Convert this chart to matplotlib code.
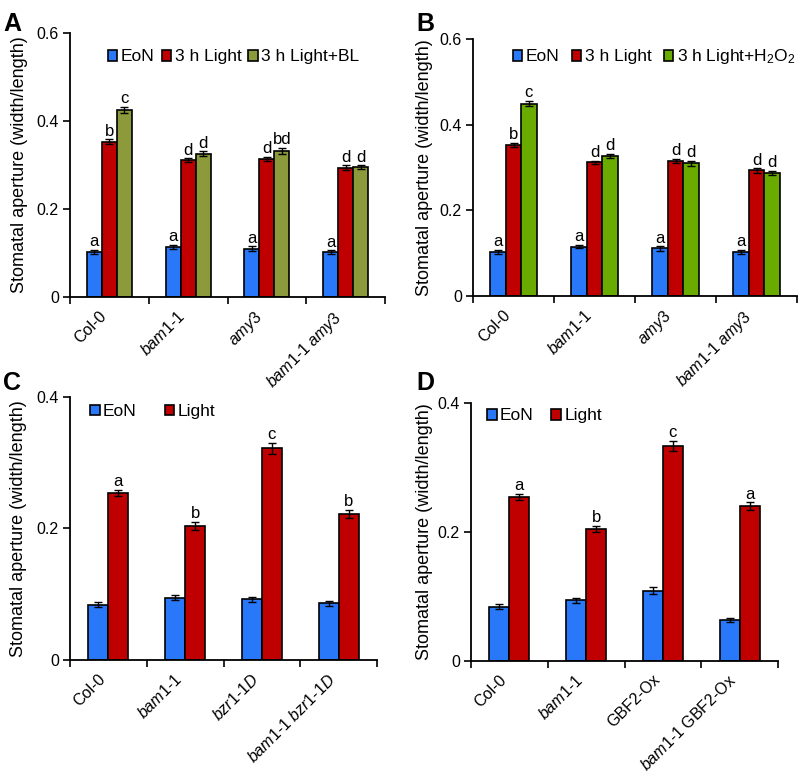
import numpy as np
import matplotlib
matplotlib.use("Agg")
import matplotlib.pyplot as plt

plt.rcParams['font.family'] = ['Liberation Sans', 'DejaVu Sans']
plt.rcParams['mathtext.fontset'] = 'custom'
plt.rcParams['mathtext.rm'] = 'Liberation Sans'
plt.rcParams['mathtext.it'] = 'Liberation Sans:italic'
plt.rcParams['mathtext.default'] = 'regular'

# ---- data ----
labels_ab = ["Col-0", r"$\mathit{bam1}$-$\mathit{1}$", r"$\mathit{amy3}$",
             r"$\mathit{bam1}$-$\mathit{1\ amy3}$"]
labels_c = ["Col-0", r"$\mathit{bam1}$-$\mathit{1}$", r"$\mathit{bzr1}$-$\mathit{1D}$",
            r"$\mathit{bam1}$-$\mathit{1\ bzr1}$-$\mathit{1D}$"]
labels_d = ["Col-0", r"$\mathit{bam1}$-$\mathit{1}$", "GBF2-Ox",
            r"$\mathit{bam1}$-$\mathit{1}$ GBF2-Ox"]

a_eon = [0.102, 0.114, 0.110, 0.102]
a_light = [0.353, 0.311, 0.314, 0.294]
a_bl = [0.425, 0.326, 0.332, 0.295]
a_eon_err = [0.005, 0.004, 0.005, 0.004]
a_light_err = [0.005, 0.004, 0.004, 0.005]
a_bl_err = [0.007, 0.005, 0.006, 0.004]
a_letters = [["a", "a", "a", "a"], ["b", "d", "d", "d"], ["c", "d", "bd", "d"]]

b_eon = [0.103, 0.115, 0.111, 0.103]
b_light = [0.353, 0.312, 0.315, 0.293]
b_h2o2 = [0.449, 0.327, 0.310, 0.287]
b_eon_err = [0.005, 0.004, 0.005, 0.004]
b_light_err = [0.005, 0.004, 0.005, 0.005]
b_h2o2_err = [0.006, 0.005, 0.006, 0.005]
b_letters = [["a", "a", "a", "a"], ["b", "d", "d", "d"], ["c", "d", "d", "d"]]

c_eon = [0.084, 0.095, 0.092, 0.086]
c_light = [0.254, 0.204, 0.322, 0.222]
c_eon_err = [0.004, 0.004, 0.004, 0.004]
c_light_err = [0.005, 0.006, 0.008, 0.006]
c_letters = [["", "", "", ""], ["a", "b", "c", "b"]]

d_eon = [0.084, 0.094, 0.109, 0.063]
d_light = [0.254, 0.205, 0.333, 0.240]
d_eon_err = [0.004, 0.004, 0.005, 0.003]
d_light_err = [0.005, 0.005, 0.008, 0.006]
d_letters = [["", "", "", ""], ["a", "b", "c", "a"]]

BLUE = "#2a78fa"
RED = "#c00000"
OLIVE = "#8c9a3c"
GREEN = "#6aab00"


def panel(ax, labels, series, errs, names, colors, letters, width, ymax, yticks,
          leg_xy, colspace, ylab_x):
    x = np.arange(len(labels))
    n = len(series)
    for i, (vals, err, name, col) in enumerate(zip(series, errs, names, colors)):
        pos = x + (i - (n - 1) / 2) * width
        ax.bar(pos, vals, width, color=col, edgecolor="black", linewidth=1.2, label=name,
               yerr=err, error_kw=dict(ecolor="black", elinewidth=1.0, capsize=3.2, capthick=1.0))
        for p, v, e, t in zip(pos, vals, err, letters[i]):
            ax.text(p, v + e + ymax * 0.003, t, ha="center", va="bottom", fontsize=12)
    ax.set_xlim(-0.5, len(labels) - 0.5)
    ax.set_ylim(0, ymax)
    ax.set_yticks(yticks)
    ax.set_yticklabels(["0" if t == 0 else "%.1f" % t for t in yticks], fontsize=11.5)
    ax.set_xticks(np.arange(len(labels) + 1) - 0.5)
    ax.set_xticklabels([])
    ax.set_xticks(x, minor=True)
    ax.set_xticklabels(labels, minor=True, rotation=45, ha="right", va="top",
                       fontsize=11.5)
    ax.tick_params(axis="x", which="minor", length=0, pad=8)
    ax.tick_params(axis="both", which="major", length=5, width=1.2, direction="out")
    ax.tick_params(axis="y", pad=3)
    for s in ["top", "right"]:
        ax.spines[s].set_visible(False)
    for s in ["left", "bottom"]:
        ax.spines[s].set_linewidth(1.3)
    ax.set_ylabel("Stomatal aperture (width/length)", fontsize=13)
    ax.yaxis.set_label_coords(ylab_x, 0.5)
    ax.legend(loc="center left", bbox_to_anchor=leg_xy, ncol=n, frameon=False,
              fontsize=12.5, handlelength=0.55, handleheight=0.55, handletextpad=0.2,
              columnspacing=colspace, borderpad=0, borderaxespad=0)


fig = plt.figure(figsize=(8.02, 7.74), dpi=100)
axA = fig.add_axes([0.0873, 0.6163, 0.3928, 0.3411])
axB = fig.add_axes([0.5898, 0.6176, 0.4040, 0.3320])
axC = fig.add_axes([0.0873, 0.1473, 0.3828, 0.3398])
axD = fig.add_axes([0.5873, 0.1460, 0.3828, 0.3333])

panel(axA, labels_ab, [a_eon, a_light, a_bl], [a_eon_err, a_light_err, a_bl_err],
      ["EoN", "3 h Light", "3 h Light+BL"], [BLUE, RED, OLIVE], a_letters,
      0.19, 0.6, [0, 0.2, 0.4, 0.6], (0.12, 0.909), 0.4, -0.133)
panel(axB, labels_ab, [b_eon, b_light, b_h2o2], [b_eon_err, b_light_err, b_h2o2_err],
      ["EoN", "3 h Light", "3 h Light+H$_2$O$_2$"], [BLUE, RED, GREEN], b_letters,
      0.19, 0.6, [0, 0.2, 0.4, 0.6], (0.123, 0.93), 0.7, -0.123)
panel(axC, labels_c, [c_eon, c_light], [c_eon_err, c_light_err],
      ["EoN", "Light"], [BLUE, RED], c_letters,
      0.26, 0.4, [0, 0.2, 0.4], (0.065, 0.945), 1.6, -0.14)
panel(axD, labels_d, [d_eon, d_light], [d_eon_err, d_light_err],
      ["EoN", "Light"], [BLUE, RED], d_letters,
      0.26, 0.4, [0, 0.2, 0.4], (0.052, 0.95), 1.0, -0.124)

for t, xx, yy in [("A", 0.004, 0.985), ("B", 0.519, 0.985), ("C", 0.004, 0.521), ("D", 0.519, 0.521)]:
    fig.text(xx, yy, t, fontsize=18, fontweight="bold", ha="left", va="top")

fig.savefig("out.png", dpi=100)
